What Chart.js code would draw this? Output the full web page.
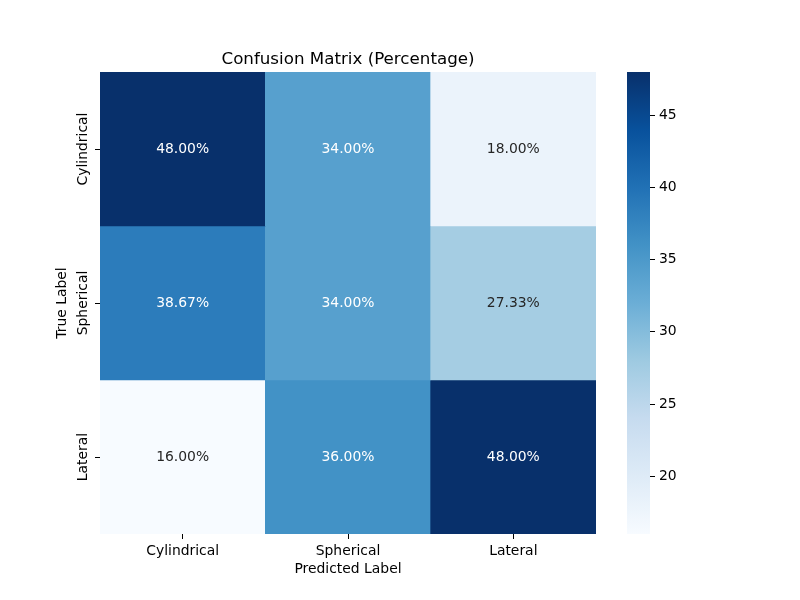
<!DOCTYPE html>
<html>
<head>
<meta charset="utf-8">
<script src="https://cdn.jsdelivr.net/npm/chart.js@4.4.1/dist/chart.umd.min.js"></script>
<style>
  body { margin: 0; background: #fff; }
  #wrap { position: relative; width: 800px; height: 600px; }
  #main { position: absolute; left: 0; top: 0; }
  #cbar { position: absolute; left: 600px; top: 0; }
</style>
</head>
<body>
<div id="wrap">
  <canvas id="main" width="800" height="600"></canvas>
  <canvas id="cbar" width="200" height="600"></canvas>
</div>
<script>
const classes = ['Cylindrical', 'Spherical', 'Lateral'];
const rowCylindrical = [48.00, 34.00, 18.00];
const rowSpherical = [38.67, 34.00, 27.33];
const rowLateral = [16.00, 36.00, 48.00];
const matrix = [rowCylindrical, rowSpherical, rowLateral];
const colorbarTicks = [20, 25, 30, 35, 40, 45];
const chartTitle = 'Confusion Matrix (Percentage)';

const vmin = Math.min(...matrix.flat());
const vmax = Math.max(...matrix.flat());

// matplotlib "Blues"
const blues = ['#f7fbff', '#deebf7', '#c6dbef', '#9ecae1', '#6baed6', '#4292c6', '#2171b5', '#08519c', '#08306b'];

Chart.defaults.font.family = '"DejaVu Sans", sans-serif';
Chart.defaults.font.size = 13.9;
Chart.defaults.color = '#000';

function hexToRgb(h) {
    return [1, 3, 5].map(k => parseInt(h.substr(k, 2), 16));
}

function cellRgb(v) {
    let t = (v - vmin) / (vmax - vmin);
    t = Math.max(0, Math.min(1, t)) * (blues.length - 1);
    const k = Math.min(Math.floor(t), blues.length - 2);
    const f = t - k;
    const a = hexToRgb(blues[k]), b = hexToRgb(blues[k + 1]);
    return a.map((c, n) => Math.round(c + (b[n] - c) * f));
}

function cellColor(v) {
    const c = cellRgb(v);
    return `rgb(${c[0]}, ${c[1]}, ${c[2]})`;
}

function textColor(v) {
    const lin = cellRgb(v).map(c => {
        c = c / 255;
        return c <= 0.03928 ? c / 12.92 : Math.pow((c + 0.055) / 1.055, 2.4);
    });
    const lum = 0.2126 * lin[0] + 0.7152 * lin[1] + 0.0722 * lin[2];
    return lum > 0.408 ? '#262626' : '#ffffff';
}

const heatmapText = {
    id: 'heatmapText',
    afterDatasetsDraw(chart) {
        const ctx = chart.ctx;
        ctx.save();
        ctx.font = '13.9px "DejaVu Sans"';
        ctx.textAlign = 'center';
        ctx.textBaseline = 'middle';
        chart.data.datasets.forEach((ds, i) => {
            chart.getDatasetMeta(i).data.forEach((bar, j) => {
                const p = bar.getCenterPoint();
                ctx.fillStyle = textColor(ds.values[j]);
                ctx.fillText(ds.values[j].toFixed(2) + '%', p.x, p.y);
            });
        });

        // row labels, rotated like seaborn's y tick labels
        const ys = chart.scales.y;
        ctx.fillStyle = '#000';
        classes.forEach((c, i) => {
            ctx.save();
            ctx.translate(ys.right - 17, ys.getPixelForValue(i + 0.5));
            ctx.rotate(-Math.PI / 2);
            ctx.fillText(c, 0, 0);
            ctx.restore();
        });

        const a = chart.chartArea;
        ctx.font = '16.7px "DejaVu Sans"';
        ctx.fillText(chartTitle, (a.left + a.right) / 2, 60);
        ctx.restore();
    }
};

const datasets = matrix.map((row, i) => ({
    label: classes[i],
    data: row.map(() => [i, i + 1]),
    values: row,
    backgroundColor: row.map(cellColor),
    grouped: false,
    barPercentage: 1,
    categoryPercentage: 1,
    borderWidth: 0
}));

new Chart(document.getElementById('main'), {
    type: 'bar',
    data: { labels: classes, datasets: datasets },
    options: {
        responsive: false,
        animation: false,
        layout: { padding: { left: 54, right: 204, top: 72, bottom: 20 } },
        plugins: {
            legend: { display: false },
            tooltip: { enabled: false }
        },
        scales: {
            x: {
                afterFit: s => { s.height = 46; },
                grid: { drawOnChartArea: false, offset: false, tickLength: 5, color: '#000', lineWidth: 1 },
                border: { display: false },
                ticks: { padding: 4, color: '#000' },
                title: { display: true, text: 'Predicted Label', color: '#000', padding: { top: 0, bottom: 2.7 } }
            },
            y: {
                type: 'linear',
                min: 0,
                max: 3,
                reverse: true,
                afterBuildTicks: s => { s.ticks = [0.5, 1.5, 2.5].map(v => ({ value: v })); },
                afterFit: s => { s.width = 46; },
                grid: { drawOnChartArea: false, tickLength: 5, color: '#000', lineWidth: 1 },
                border: { display: false },
                ticks: { display: false },
                title: { display: true, text: 'True Label', color: '#000', padding: { top: 0, bottom: 0 } }
            }
        }
    },
    plugins: [heatmapText]
});

new Chart(document.getElementById('cbar'), {
    type: 'bar',
    data: {
        labels: [''],
        datasets: [{
            data: [[vmin, vmax]],
            backgroundColor: c => {
                const chart = c.chart;
                if (!chart.chartArea) return cellColor(vmax);
                const y = chart.scales.y;
                const g = chart.ctx.createLinearGradient(0, y.getPixelForValue(vmin), 0, y.getPixelForValue(vmax));
                blues.forEach((col, k) => g.addColorStop(k / (blues.length - 1), col));
                return g;
            },
            barPercentage: 1,
            categoryPercentage: 1,
            borderWidth: 0
        }]
    },
    options: {
        responsive: false,
        animation: false,
        layout: { padding: { left: 27, right: 90, top: 72, bottom: 66 } },
        plugins: {
            legend: { display: false },
            tooltip: { enabled: false }
        },
        scales: {
            x: { display: false },
            y: {
                position: 'right',
                min: vmin,
                max: vmax,
                afterBuildTicks: s => { s.ticks = colorbarTicks.map(v => ({ value: v })); },
                afterFit: s => { s.width = 60; },
                grid: { drawOnChartArea: false, tickLength: 5, color: '#000', lineWidth: 1 },
                border: { display: false },
                ticks: { padding: 4, color: '#000' }
            }
        }
    }
});
</script>
</body>
</html>
